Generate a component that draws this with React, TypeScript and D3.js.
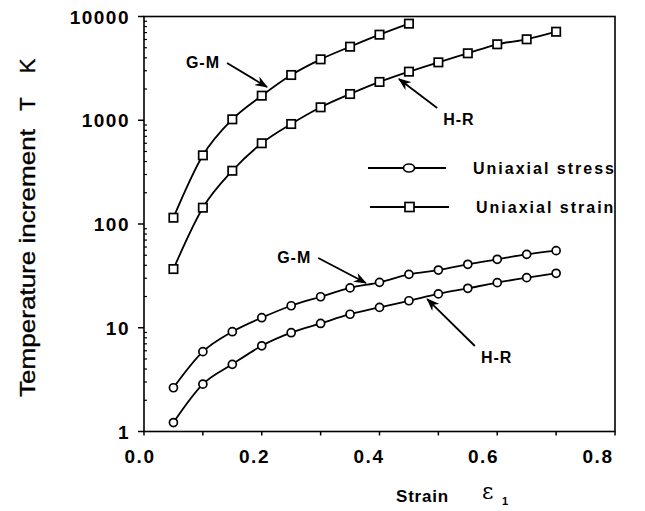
import React, { useEffect, useRef } from "react";
import * as d3 from "d3";

// strain epsilon_1 at which every curve was sampled
const strainSteps = [0.05, 0.1, 0.15, 0.2, 0.25, 0.3, 0.35, 0.4, 0.45, 0.5, 0.55, 0.6, 0.65, 0.7];

// temperature increment (K), uniaxial stress (circles)
const stressGM = [2.64, 5.88, 9.16, 12.5, 16.3, 19.9, 24.2, 27.4, 32.7, 36, 40.9, 45.7, 51, 55.3];
const stressHR = [1.22, 2.86, 4.44, 6.7, 8.96, 11.0, 13.5, 15.7, 18.2, 21.2, 24.0, 27.2, 30.4, 33.5];

// temperature increment (K), uniaxial strain (squares)
const strainGM = [115, 459, 1021, 1725, 2730, 3865, 5115, 6680, 8530];
const strainHR = [36.8, 143.6, 326, 600, 920, 1333, 1790, 2340, 2940, 3615, 4420, 5400, 6030, 7130];

const xTicks = [0, 0.1, 0.2, 0.3, 0.4, 0.5, 0.6, 0.7, 0.8];
const xLabels = ["0.0", "0.2", "0.4", "0.6", "0.8"];
const yTicks = [1, 10, 100, 1000, 10000];
const yLabels = ["1", "10", "100", "1000", "10000"];

const legendLabels = ["Uniaxial stress", "Uniaxial strain"];

// arrow annotations, tip and tail in data units
const notes = [
  { text: "G-M", tip: [0.209, 2090], tail: [0.141, 3565], side: "left" },
  { text: "H-R", tip: [0.433, 2500], tail: [0.498, 1313], side: "right" },
  { text: "G-M", tip: [0.377, 27], tail: [0.296, 47], side: "left" },
  { text: "H-R", tip: [0.481, 18.9], tail: [0.562, 6.67], side: "right" },
];

const FONT = "'Liberation Sans', Arial, Helvetica, sans-serif";

export default function App() {
  const ref = useRef<SVGSVGElement>(null);

  useEffect(() => {
    const svg = d3.select(ref.current);
    svg.selectAll("*").remove();

    const left = 144, right = 615, top = 16.5, bottom = 431.5;
    const x = d3.scaleLinear().domain([0, 0.8]).range([left, right]);
    const y = d3.scaleLog().domain([1, 10000]).range([bottom, top]);
    // the printed numbers sit a bit left of their ticks in the original
    const xLabelPos = d3.scaleLinear().domain([0, 0.8]).range([140, 598]);

    svg.append("defs").append("marker")
      .attr("id", "arrowhead")
      .attr("markerUnits", "userSpaceOnUse")
      .attr("markerWidth", 14).attr("markerHeight", 10)
      .attr("refX", 12).attr("refY", 5)
      .attr("orient", "auto")
      .append("path")
      .attr("d", "M0,0 L13,5 L0,10 L4,5 Z")
      .attr("fill", "#000");

    const g = svg.append("g").attr("stroke", "#000").attr("fill", "none");

    // frame
    g.append("rect")
      .attr("x", left).attr("y", top)
      .attr("width", right - left).attr("height", bottom - top)
      .attr("stroke-width", 1.6);

    // y ticks: decades outward, minors inward
    yTicks.forEach(v => {
      g.append("line").attr("x1", left - 6).attr("x2", left)
        .attr("y1", y(v)).attr("y2", y(v)).attr("stroke-width", 1.5);
    });
    for (let d = 1; d < 10000; d *= 10) {
      for (let k = 2; k < 10; k++) {
        g.append("line").attr("x1", left).attr("x2", left + 3)
          .attr("y1", y(d * k)).attr("y2", y(d * k)).attr("stroke-width", 1.2);
      }
    }
    // x ticks outward
    xTicks.forEach(v => {
      g.append("line").attr("x1", x(v)).attr("x2", x(v))
        .attr("y1", bottom).attr("y2", bottom + 4).attr("stroke-width", 1.5);
    });

    const txt = svg.append("g")
      .attr("font-family", FONT).attr("font-weight", "bold").attr("fill", "#000");

    yTicks.forEach((v, i) => {
      txt.append("text")
        .attr("x", 130).attr("y", y(v) + 7)
        .attr("text-anchor", "end")
        .attr("font-size", 19).attr("letter-spacing", 1.5)
        .text(yLabels[i]);
    });
    xLabels.forEach(s => {
      txt.append("text")
        .attr("x", xLabelPos(+s)).attr("y", 463)
        .attr("text-anchor", "middle")
        .attr("font-size", 19).attr("letter-spacing", 1.5)
        .text(s);
    });

    // y axis title, three pieces with wide gaps as printed
    const yt = txt.append("g")
      .attr("font-size", 22).attr("font-weight", "normal")
      .attr("stroke", "#000").attr("stroke-width", 0.35);
    yt.append("text")
      .attr("transform", "translate(35,397) rotate(-90)")
      .attr("textLength", 268).attr("lengthAdjust", "spacingAndGlyphs")
      .text("Temperature increment");
    yt.append("text")
      .attr("transform", "translate(35,104) rotate(-90)")
      .attr("text-anchor", "middle")
      .text("T");
    yt.append("text")
      .attr("transform", "translate(35,66) rotate(-90)")
      .attr("text-anchor", "middle")
      .text("K");

    txt.append("text")
      .attr("x", 396).attr("y", 502)
      .attr("font-size", 17).attr("letter-spacing", 0.8)
      .text("Strain");
    txt.append("text")
      .attr("x", 482).attr("y", 499)
      .attr("font-size", 22).attr("font-weight", "normal")
      .attr("font-family", "'DejaVu Serif', serif")
      .text("\u03b5");
    txt.append("text")
      .attr("x", 502).attr("y", 505)
      .attr("font-size", 11)
      .text("1");

    // curves
    const line = d3.line<[number, number]>()
      .x(d => x(d[0])).y(d => y(d[1]))
      .curve(d3.curveMonotoneX);

    const series = [
      { vals: strainGM, shape: "square" },
      { vals: strainHR, shape: "square" },
      { vals: stressGM, shape: "circle" },
      { vals: stressHR, shape: "circle" },
    ];

    series.forEach(s => {
      const pts = s.vals.map((v, i) => [strainSteps[i], v] as [number, number]);
      g.append("path").attr("d", line(pts)).attr("stroke-width", 1.8);
      const m = svg.append("g").attr("stroke", "#000").attr("stroke-width", 1.7).attr("fill", "#fff");
      pts.forEach(p => {
        if (s.shape === "circle") {
          m.append("circle").attr("cx", x(p[0])).attr("cy", y(p[1])).attr("r", 4);
        } else {
          m.append("rect").attr("x", x(p[0]) - 4.2).attr("y", y(p[1]) - 4.2)
            .attr("width", 8.4).attr("height", 8.4);
        }
      });
    });

    // legend
    const lg = svg.append("g");
    const rows = [168, 207];
    rows.forEach((ry, i) => {
      lg.append("line").attr("x1", 368 + i * 2).attr("x2", 446 + i * 3)
        .attr("y1", ry).attr("y2", ry).attr("stroke", "#000").attr("stroke-width", 1.8);
      if (i === 0) {
        lg.append("ellipse").attr("cx", 409).attr("cy", ry).attr("rx", 5.5).attr("ry", 4)
          .attr("fill", "#fff").attr("stroke", "#000").attr("stroke-width", 1.7);
      } else {
        lg.append("rect").attr("x", 405).attr("y", ry - 4.5).attr("width", 9).attr("height", 9)
          .attr("fill", "#fff").attr("stroke", "#000").attr("stroke-width", 1.7);
      }
      lg.append("text")
        .attr("x", 473 + i * 3).attr("y", ry + 6)
        .attr("font-family", FONT).attr("font-weight", "bold")
        .attr("font-size", 16).attr("letter-spacing", 2)
        .text(legendLabels[i]);
    });

    // annotations
    const an = svg.append("g");
    notes.forEach(n => {
      const tx = x(n.tail[0]), ty = y(n.tail[1]);
      an.append("line")
        .attr("x1", tx).attr("y1", ty)
        .attr("x2", x(n.tip[0])).attr("y2", y(n.tip[1]))
        .attr("stroke", "#000").attr("stroke-width", 1.8)
        .attr("marker-end", "url(#arrowhead)");
      an.append("text")
        .attr("x", n.side === "left" ? tx - 7 : tx + 6)
        .attr("y", n.side === "left" ? ty + 5 : ty + 17)
        .attr("text-anchor", n.side === "left" ? "end" : "start")
        .attr("font-family", FONT).attr("font-weight", "bold")
        .attr("font-size", 16).attr("letter-spacing", 1)
        .text(n.text);
    });
  }, []);

  return (
    <svg
      ref={ref}
      width={645}
      height={511}
      style={{ position: "absolute", left: 0, top: 0, background: "#fff" }}
    />
  );
}
